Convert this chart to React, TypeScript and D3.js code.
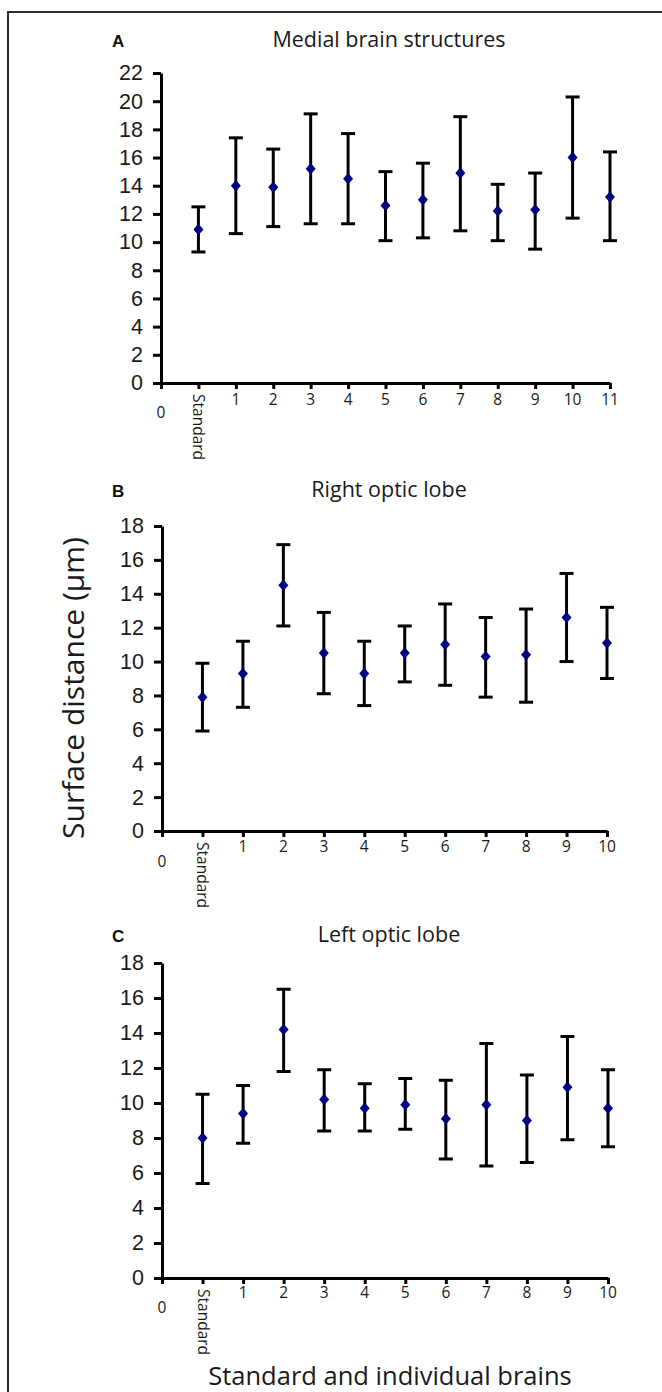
import React, { useEffect, useRef } from "react";
import * as d3 from "d3";

// panel A: medial brain structures
const labelsA = ["Standard", "1", "2", "3", "4", "5", "6", "7", "8", "9", "10", "11"];
const meanA = [10.9, 14.0, 13.9, 15.2, 14.5, 12.6, 13.0, 14.9, 12.2, 12.3, 16.0, 13.2];
const upperA = [12.5, 17.4, 16.6, 19.1, 17.7, 15.0, 15.6, 18.9, 14.1, 14.9, 20.3, 16.4];
const lowerA = [9.3, 10.6, 11.1, 11.3, 11.3, 10.1, 10.3, 10.8, 10.1, 9.5, 11.7, 10.1];

// panel B: right optic lobe
const labelsB = ["Standard", "1", "2", "3", "4", "5", "6", "7", "8", "9", "10"];
const meanB = [7.9, 9.3, 14.5, 10.5, 9.3, 10.5, 11.0, 10.3, 10.4, 12.6, 11.1];
const upperB = [9.9, 11.2, 16.9, 12.9, 11.2, 12.1, 13.4, 12.6, 13.1, 15.2, 13.2];
const lowerB = [5.9, 7.3, 12.1, 8.1, 7.4, 8.8, 8.6, 7.9, 7.6, 10.0, 9.0];

// panel C: left optic lobe
const labelsC = ["Standard", "1", "2", "3", "4", "5", "6", "7", "8", "9", "10"];
const meanC = [8.0, 9.4, 14.2, 10.2, 9.7, 9.9, 9.1, 9.9, 9.0, 10.9, 9.7];
const upperC = [10.5, 11.0, 16.5, 11.9, 11.1, 11.4, 11.3, 13.4, 11.6, 13.8, 11.9];
const lowerC = [5.4, 7.7, 11.8, 8.4, 8.4, 8.5, 6.8, 6.4, 6.6, 7.9, 7.5];

const titles = ["Medial brain structures", "Right optic lobe", "Left optic lobe"];
const letters = ["A", "B", "C"];
const yMax = [22, 18, 18];

const width = 662;
const height = 1392;

// layout of each panel (pixel frame only)
const frames = [
  { x0: 161, x1: 610, yTop: 73, yBottom: 383, titleY: 47, labY: 400, zeroY: 413 },
  { x0: 162, x1: 607, yTop: 526, yBottom: 831, titleY: 497, labY: 847, zeroY: 862 },
  { x0: 162, x1: 608, yTop: 963, yBottom: 1278, titleY: 942, labY: 1293, zeroY: 1308 },
];

const diamond = {
  draw(ctx: any, size: number) {
    const w = Math.sqrt(size) / 2;
    const h = w * 1.15;
    ctx.moveTo(0, -h);
    ctx.lineTo(w, 0);
    ctx.lineTo(0, h);
    ctx.lineTo(-w, 0);
    ctx.closePath();
  },
};

const App = () => {
  const ref = useRef<SVGSVGElement>(null);

  useEffect(() => {
    const svg = d3.select(ref.current);
    svg.selectAll("*").remove();

    // figure frame (top and left edges)
    svg.append("path")
      .attr("d", `M8,${height} L8,12 L${width},12`)
      .attr("fill", "none")
      .attr("stroke", "#2b2b2b")
      .attr("stroke-width", 2);

    const panels = [
      { labels: labelsA, mean: meanA, upper: upperA, lower: lowerA },
      { labels: labelsB, mean: meanB, upper: upperB, lower: lowerB },
      { labels: labelsC, mean: meanC, upper: upperC, lower: lowerC },
    ];

    panels.forEach((p, i) => {
      const f = frames[i];
      const g = svg.append("g");

      const xScale = d3.scalePoint<string>().domain(["0", ...p.labels]).range([f.x0, f.x1]);
      const yScale = d3.scaleLinear().domain([0, yMax[i]]).range([f.yBottom, f.yTop]);

      // panel letter and title
      g.append("text")
        .attr("x", 112)
        .attr("y", f.titleY)
        .attr("font-family", "Liberation Sans, Arial, sans-serif")
        .attr("font-weight", "bold")
        .attr("font-size", 17)
        .attr("fill", "#111")
        .text(letters[i]);

      g.append("text")
        .attr("x", 389)
        .attr("y", f.titleY)
        .attr("text-anchor", "middle")
        .attr("font-family", "Open Sans, sans-serif")
        .attr("font-size", 21.5)
        .attr("fill", "#1a1a1a")
        .text(titles[i]);

      // y axis
      const yAxis = d3.axisLeft(yScale)
        .tickValues(d3.range(0, yMax[i] + 1, 2))
        .tickSize(8)
        .tickSizeOuter(0)
        .tickPadding(10);
      const yG = g.append("g").attr("transform", `translate(${f.x0},0)`).call(yAxis);
      yG.select(".domain").attr("stroke", "#000").attr("stroke-width", 3);
      yG.selectAll(".tick line").attr("stroke", "#000").attr("stroke-width", 3);
      yG.selectAll(".tick text")
        .attr("font-family", "Liberation Sans, Arial, sans-serif")
        .attr("font-size", 21.5)
        .attr("fill", "#1a1a1a");

      // x axis
      const xAxis = d3.axisBottom(xScale).tickSize(6).tickSizeOuter(0).tickFormat(() => "");
      const xG = g.append("g").attr("transform", `translate(0,${f.yBottom})`).call(xAxis);
      xG.select(".domain").attr("stroke", "#000").attr("stroke-width", 3);
      xG.selectAll(".tick line").attr("stroke", "#000").attr("stroke-width", 3);

      // x tick labels
      xScale.domain().forEach((lab) => {
        const t = g.append("text")
          .attr("font-family", "Open Sans, sans-serif")
          .attr("font-size", 15.5)
          .attr("fill", "#1a1a1a")
          .text(lab);
        if (lab === "0") {
          t.attr("x", xScale(lab)).attr("y", f.zeroY).attr("dy", "0.35em").attr("text-anchor", "middle");
        } else if (lab === "Standard") {
          t.attr("transform", `translate(${xScale(lab)! - 5},${f.yBottom + 11}) rotate(90)`);
        } else {
          t.attr("x", xScale(lab)).attr("y", f.labY).attr("dy", "0.35em").attr("text-anchor", "middle");
        }
      });

      // error bars
      const bars = g.append("g");
      p.labels.forEach((lab, k) => {
        const cx = xScale(lab)!;
        bars.append("line")
          .attr("x1", cx).attr("x2", cx)
          .attr("y1", yScale(p.upper[k])).attr("y2", yScale(p.lower[k]))
          .attr("stroke", "#000").attr("stroke-width", 3);
        [p.upper[k], p.lower[k]].forEach((v) => {
          bars.append("line")
            .attr("x1", cx - 7).attr("x2", cx + 7)
            .attr("y1", yScale(v)).attr("y2", yScale(v))
            .attr("stroke", "#000").attr("stroke-width", 3);
        });
        bars.append("path")
          .attr("d", d3.symbol(diamond as any, 100)())
          .attr("transform", `translate(${cx},${yScale(p.mean[k])})`)
          .attr("fill", "#000080");
      });
    });

    // shared axis titles
    svg.append("text")
      .attr("transform", `translate(84,688) rotate(-90)`)
      .attr("text-anchor", "middle")
      .attr("font-family", "Open Sans, sans-serif")
      .attr("font-size", 30)
      .attr("fill", "#1a1a1a")
      .text("Surface distance (μm)");

    svg.append("text")
      .attr("x", 390)
      .attr("y", 1385)
      .attr("text-anchor", "middle")
      .attr("font-family", "Open Sans, sans-serif")
      .attr("font-size", 25.5)
      .attr("fill", "#1a1a1a")
      .text("Standard and individual brains");
  }, []);

  return (
    <div style={{ position: "absolute", left: 0, top: 0 }}>
      <svg ref={ref} width={width} height={height} style={{ display: "block", background: "#fff" }} />
    </div>
  );
};

export default App;
